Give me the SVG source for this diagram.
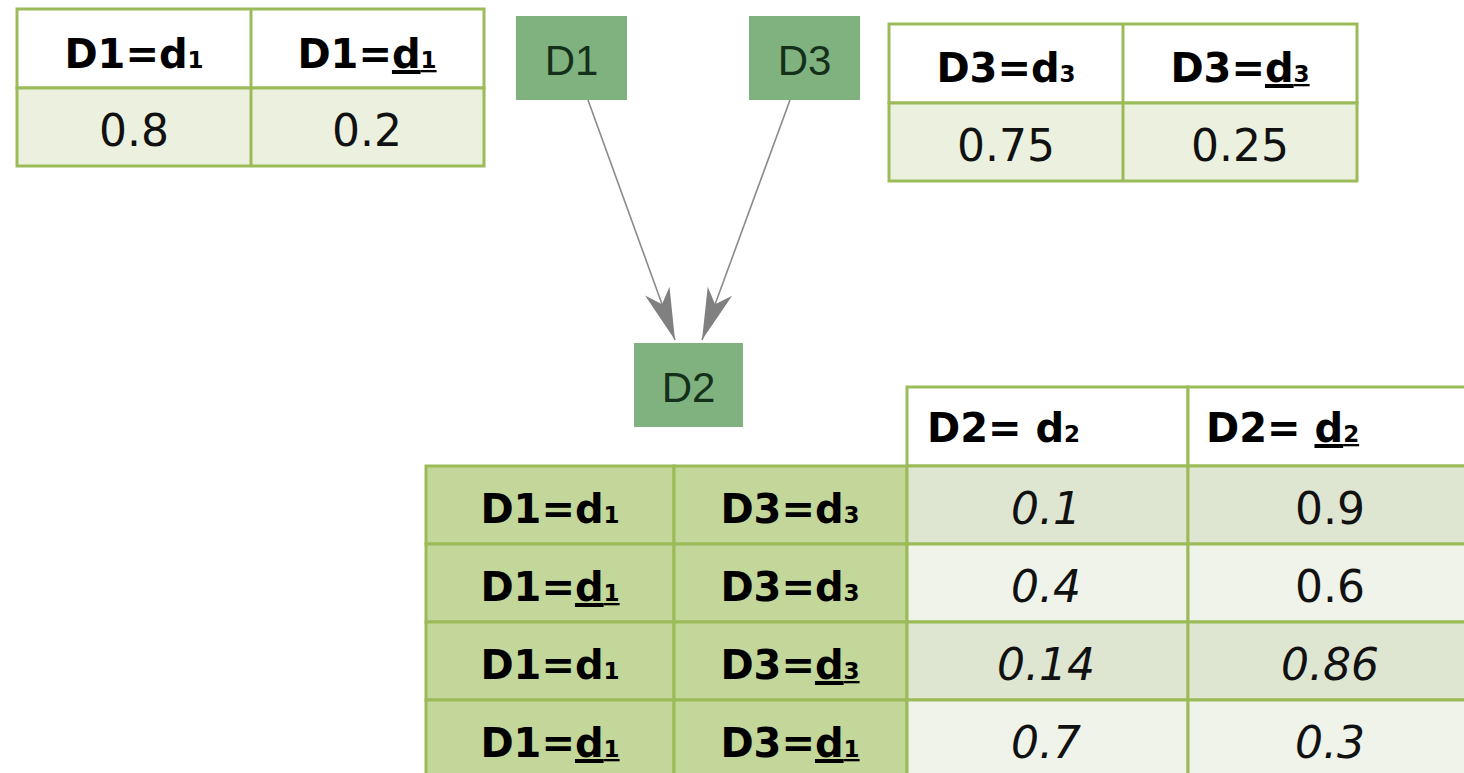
<svg xmlns="http://www.w3.org/2000/svg" width="1464" height="773" viewBox="0 0 1464 773">
<style>
.bd{stroke:#9bbb59;stroke-width:3}
.hd{font-family:"DejaVu Sans","Liberation Sans",sans-serif;font-weight:bold;font-size:40px;fill:#000}
.sb{font-size:23px}
.num{font-family:"DejaVu Sans","Liberation Sans",sans-serif;font-size:44px;fill:#111}
.it{font-style:italic}
.ul{text-decoration:underline}
.node{fill:#7fb27f}
.nt{font-family:"Liberation Sans",Arial,sans-serif;font-size:42px;fill:#14301a}
.edge{stroke:#8a8a8a;stroke-width:1.6;fill:none}
</style>
<defs>
<marker id="ah" markerUnits="userSpaceOnUse" viewBox="-54 -15 56 30" refX="0" refY="0" markerWidth="56" markerHeight="30" orient="auto">
<path d="M0,0 L-52,-13 L-38,0 L-52,13 Z" fill="#808080"/>
</marker>
</defs>
<rect width="1464" height="773" fill="#fff"/>

<!-- Top-left table -->
<g id="table-d1">
<rect x="17" y="9" width="467" height="79" fill="#fff" class="bd"/>
<rect x="17" y="88" width="467" height="78" fill="#ebf1de" class="bd"/>
<line x1="251" y1="9" x2="251" y2="166" class="bd"/>
<text x="134" y="68" text-anchor="middle" class="hd">D1=d<tspan class="sb">1</tspan></text>
<text x="367" y="68" text-anchor="middle" class="hd">D1=<tspan class="ul">d<tspan class="sb">1</tspan></tspan></text>
<text x="134" y="146" text-anchor="middle" class="num">0.8</text>
<text x="367" y="146" text-anchor="middle" class="num">0.2</text>
</g>

<!-- Top-right table -->
<g id="table-d3">
<rect x="889" y="24" width="468" height="79" fill="#fff" class="bd"/>
<rect x="889" y="103" width="468" height="78" fill="#ebf1de" class="bd"/>
<line x1="1123" y1="24" x2="1123" y2="181" class="bd"/>
<text x="1006" y="82" text-anchor="middle" class="hd">D3=d<tspan class="sb">3</tspan></text>
<text x="1240" y="82" text-anchor="middle" class="hd">D3=<tspan class="ul">d<tspan class="sb">3</tspan></tspan></text>
<text x="1006" y="161" text-anchor="middle" class="num">0.75</text>
<text x="1240" y="161" text-anchor="middle" class="num">0.25</text>
</g>

<!-- Connectors -->
<g id="edges">
<line x1="588" y1="100" x2="675" y2="340" class="edge" marker-end="url(#ah)"/>
<line x1="790" y1="100" x2="702" y2="340" class="edge" marker-end="url(#ah)"/>
</g>

<!-- Nodes -->
<g id="node-D1">
<rect x="516" y="16" width="111" height="84" class="node"/>
<text x="571.5" y="75" text-anchor="middle" class="nt">D1</text>
</g>
<g id="node-D3">
<rect x="749" y="16" width="111" height="84" class="node"/>
<text x="804.5" y="75" text-anchor="middle" class="nt">D3</text>
</g>
<g id="node-D2">
<rect x="634" y="343" width="109" height="84" class="node"/>
<text x="688.5" y="402" text-anchor="middle" class="nt">D2</text>
</g>

<!-- Bottom table -->
<g id="table-d2">
<rect x="907" y="387" width="281" height="79" fill="#fff" class="bd"/>
<rect x="1188" y="387" width="290" height="79" fill="#fff" class="bd"/>
<rect x="426" y="466" width="248" height="78" fill="#c4d79b" class="bd"/>
<rect x="674" y="466" width="233" height="78" fill="#c4d79b" class="bd"/>
<rect x="907" y="466" width="281" height="78" fill="#dee6d1" class="bd"/>
<rect x="1188" y="466" width="290" height="78" fill="#dee6d1" class="bd"/>
<rect x="426" y="544" width="248" height="78" fill="#c4d79b" class="bd"/>
<rect x="674" y="544" width="233" height="78" fill="#c4d79b" class="bd"/>
<rect x="907" y="544" width="281" height="78" fill="#eff3e9" class="bd"/>
<rect x="1188" y="544" width="290" height="78" fill="#eff3e9" class="bd"/>
<rect x="426" y="622" width="248" height="78" fill="#c4d79b" class="bd"/>
<rect x="674" y="622" width="233" height="78" fill="#c4d79b" class="bd"/>
<rect x="907" y="622" width="281" height="78" fill="#dee6d1" class="bd"/>
<rect x="1188" y="622" width="290" height="78" fill="#dee6d1" class="bd"/>
<rect x="426" y="700" width="248" height="80" fill="#c4d79b" class="bd"/>
<rect x="674" y="700" width="233" height="80" fill="#c4d79b" class="bd"/>
<rect x="907" y="700" width="281" height="80" fill="#eff3e9" class="bd"/>
<rect x="1188" y="700" width="290" height="80" fill="#eff3e9" class="bd"/>

<text x="927" y="442" class="hd">D2= d<tspan class="sb">2</tspan></text>
<text x="1206" y="442" class="hd">D2= <tspan class="ul">d<tspan class="sb">2</tspan></tspan></text>

<text x="550" y="523" text-anchor="middle" class="hd">D1=d<tspan class="sb">1</tspan></text>
<text x="790" y="523" text-anchor="middle" class="hd">D3=d<tspan class="sb">3</tspan></text>
<text x="1046" y="524" text-anchor="middle" class="num it">0.1</text>
<text x="1330" y="524" text-anchor="middle" class="num">0.9</text>

<text x="550" y="601" text-anchor="middle" class="hd">D1=<tspan class="ul">d<tspan class="sb">1</tspan></tspan></text>
<text x="790" y="601" text-anchor="middle" class="hd">D3=d<tspan class="sb">3</tspan></text>
<text x="1046" y="602" text-anchor="middle" class="num it">0.4</text>
<text x="1330" y="602" text-anchor="middle" class="num">0.6</text>

<text x="550" y="679" text-anchor="middle" class="hd">D1=d<tspan class="sb">1</tspan></text>
<text x="790" y="679" text-anchor="middle" class="hd">D3=<tspan class="ul">d<tspan class="sb">3</tspan></tspan></text>
<text x="1046" y="680" text-anchor="middle" class="num it">0.14</text>
<text x="1330" y="680" text-anchor="middle" class="num it">0.86</text>

<text x="550" y="757" text-anchor="middle" class="hd">D1=<tspan class="ul">d<tspan class="sb">1</tspan></tspan></text>
<text x="790" y="757" text-anchor="middle" class="hd">D3=<tspan class="ul">d<tspan class="sb">1</tspan></tspan></text>
<text x="1046" y="758" text-anchor="middle" class="num it">0.7</text>
<text x="1330" y="758" text-anchor="middle" class="num it">0.3</text>
</g>
</svg>
